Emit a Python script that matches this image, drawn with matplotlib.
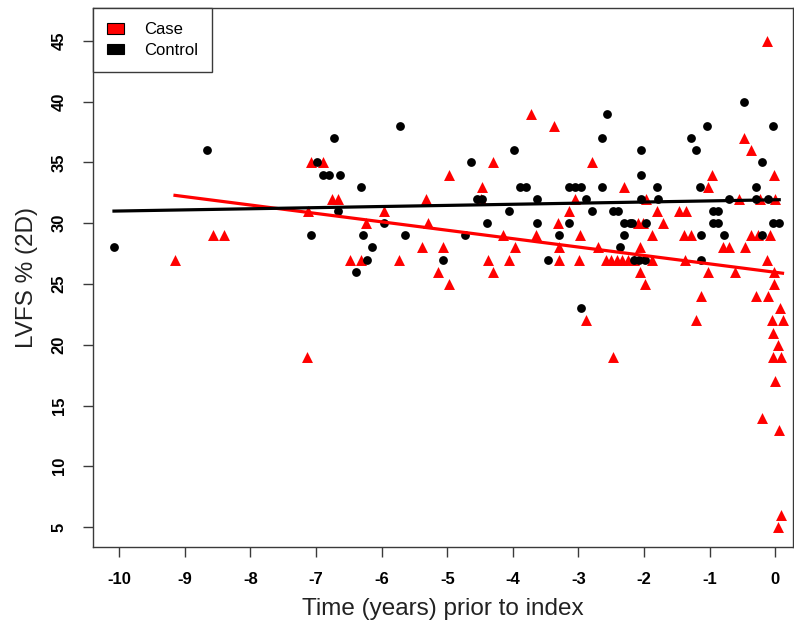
import numpy as np
import matplotlib
matplotlib.use("Agg")
import matplotlib.pyplot as plt
from matplotlib.patches import Patch

# Case (red triangles): years prior to index, LVFS %
case_x = [-9.15, -8.57, -8.40, -7.14, -7.08, -6.89, -6.76, -6.67, -7.12, -6.24,
          -5.97, -5.32, -5.30, -4.97, -5.39, -5.06, -6.48, -6.32, -5.73, -5.14,
          -4.97, -3.73, -3.38, -4.30, -2.80, -4.47, -2.31, -4.48, -3.05, -3.14,
          -3.31, -2.09, -2.02, -4.15, -3.65, -2.97, -3.97, -3.30, -2.70, -2.06,
          -4.38, -4.06, -3.29, -2.99, -2.58, -2.50, -2.42, -2.33, -2.25, -1.88,
          -4.31, -2.06, -1.98, -2.89, -2.47, -0.47, -0.37, -0.96, -0.02, -1.03,
          -1.97, -0.55, -0.24, 0.00, -1.80, -1.47, -1.36, -1.71, -1.88, -1.39,
          -1.28, -0.37, -0.27, -0.08, -0.80, -0.71, -0.46, -2.15, -1.37, -0.13,
          -1.02, -0.62, -0.02, -0.02, -0.29, -0.11, -1.13, 0.07, -0.05, 0.11,
          -1.21, -0.04, 0.04, -0.04, 0.09, -0.01, -0.21, 0.05, 0.08, 0.04,
          -0.13]
case_y = [27, 29, 29, 19, 35, 35, 32, 32, 31, 30,
          31, 32, 30, 34, 28, 28, 27, 27, 27, 26,
          25, 39, 38, 35, 35, 33, 33, 32, 32, 31,
          30, 30, 30, 29, 29, 29, 28, 28, 28, 28,
          27, 27, 27, 27, 27, 27, 27, 27, 27, 27,
          26, 26, 25, 22, 19, 37, 36, 34, 34, 33,
          32, 32, 32, 32, 31, 31, 31, 30, 29, 29,
          29, 29, 29, 29, 28, 28, 28, 27, 27, 27,
          26, 26, 26, 25, 24, 24, 24, 23, 22, 22,
          22, 21, 20, 19, 19, 17, 14, 13, 6, 5,
          45]

# Control (black circles)
ctrl_x = [-10.08, -8.66, -7.07, -6.99, -6.72, -6.90, -6.81, -6.64, -6.66, -5.72,
          -6.32, -5.97, -6.29, -5.64, -4.73, -6.14, -6.22, -5.06, -6.39, -4.64,
          -4.55, -4.47, -2.57, -2.64, -3.98, -2.04, -2.04, -3.89, -3.80, -3.15,
          -3.06, -2.96, -2.64, -3.63, -2.88, -2.04, -4.06, -2.80, -2.47, -2.39,
          -4.39, -3.63, -3.14, -2.31, -2.22, -1.97, -3.30, -2.31, -2.37, -3.46,
          -2.15, -2.07, -1.98, -2.96, -0.47, -1.04, -0.04, -1.29, -1.21, -0.20,
          -1.80, -1.14, -0.29, -1.79, -0.71, -0.29, -0.11, -0.95, -0.87, -2.19,
          -0.95, -0.87, -0.04, 0.06, -1.13, -0.78, -0.21, -1.13]
ctrl_y = [28, 36, 29, 35, 37, 34, 34, 34, 31, 38,
          33, 30, 29, 29, 29, 28, 27, 27, 26, 35,
          32, 32, 39, 37, 36, 36, 34, 33, 33, 33,
          33, 33, 33, 32, 32, 32, 31, 31, 31, 31,
          30, 30, 30, 30, 30, 30, 29, 29, 28, 27,
          27, 27, 27, 23, 40, 38, 38, 37, 36, 35,
          33, 33, 33, 32, 32, 32, 32, 31, 31, 30,
          30, 30, 30, 30, 29, 29, 29, 27]

x_ticks = list(range(-10, 1))
y_ticks = list(range(5, 50, 5))

plt.rcParams['font.family'] = ['Liberation Sans', 'DejaVu Sans']
edge = '#3a3a3a'

fig = plt.figure(figsize=(7.94, 6.26), dpi=100)
ax = fig.add_axes([93 / 794, 79 / 626, 700 / 794, 539 / 626])

ax.scatter(case_x, case_y, marker='^', s=62, color='#ff0000', linewidths=0, zorder=2)
ax.scatter(ctrl_x, ctrl_y, marker='o', s=40, color='black', linewidths=0, zorder=3)

# linear fits over each group's time range
for xs, ys, col in [(case_x, case_y, '#ff0000'), (ctrl_x, ctrl_y, 'black')]:
    xs = np.array(xs)
    slope, icpt = np.polyfit(xs, ys, 1)
    xx = np.array([xs.min(), xs.max()])
    ax.plot(xx, icpt + slope * xx, color=col, lw=2.3, zorder=4)

ax.set_xlim(-10.40, 0.27)
ax.set_ylim(3.36, 47.7)
ax.set_xticks(x_ticks)
ax.set_yticks(y_ticks)
ax.set_xticklabels([str(t) for t in x_ticks], fontweight='bold', fontsize=12)
ax.set_yticklabels([str(t) for t in y_ticks], fontweight='bold', fontsize=12,
                   rotation=90, va='center')
ax.tick_params(axis='both', direction='out', length=7, width=1, color=edge)
ax.tick_params(axis='x', pad=11)
ax.tick_params(axis='y', pad=12)
for sp in ax.spines.values():
    sp.set_color(edge)
    sp.set_linewidth(1)

ax.set_xlabel('Time (years) prior to index', fontsize=17.5, labelpad=8, color='#222222')
ax.set_ylabel('LVFS % (2D)', fontsize=17.5, labelpad=10, color='#222222')

handles = [Patch(facecolor='#ff0000', edgecolor='black', linewidth=0.8, label='Case'),
           Patch(facecolor='black', edgecolor='black', linewidth=0.8, label='Control')]
leg = ax.legend(handles=handles, loc='upper left', borderaxespad=0, fontsize=12,
                fancybox=False, framealpha=1, edgecolor=edge,
                handlelength=1.0, handleheight=0.6, handletextpad=1.2,
                borderpad=0.85, labelspacing=0.35)
leg.get_frame().set_linewidth(1)

fig.savefig('out.png', dpi=100)
